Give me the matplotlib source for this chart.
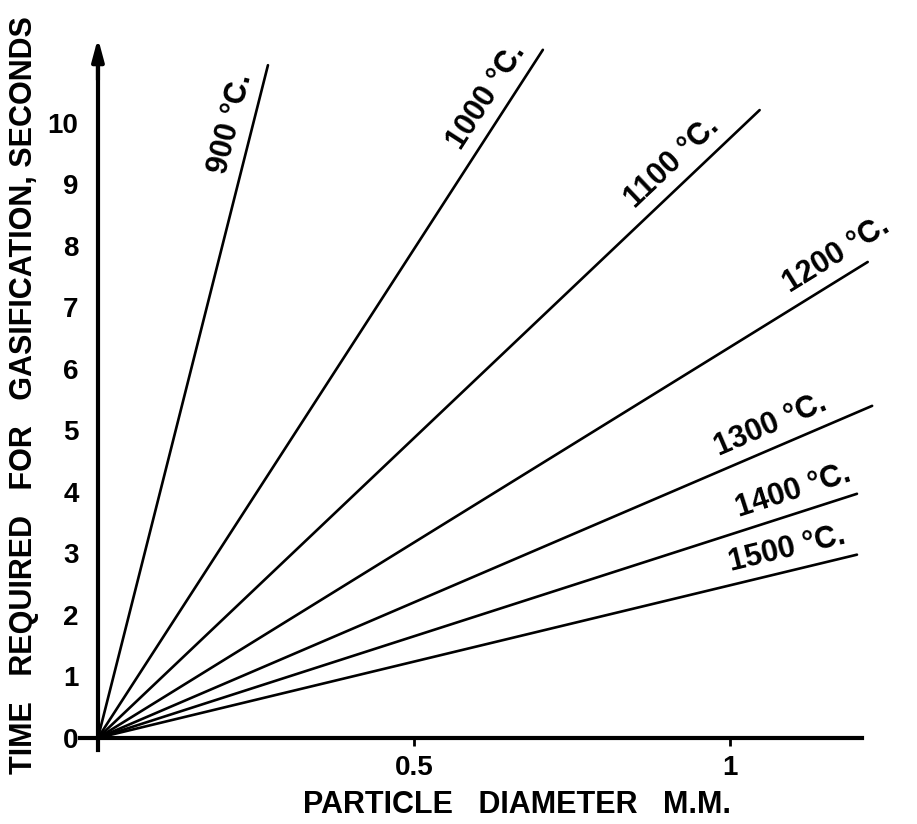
import numpy as np
import matplotlib.pyplot as plt

# gasification time vs particle diameter, one straight line per temperature
temps = ["900", "1000", "1100", "1200", "1300", "1400", "1500"]
end_diam = [0.269, 0.704, 1.047, 1.218, 1.225, 1.201, 1.201]   # mm
end_time = [10.94, 11.19, 10.21, 7.74, 5.40, 3.97, 2.98]       # seconds

y_ticks = list(range(0, 11))
x_ticks = [0.5, 1.0]
x_tick_labels = ["0.5", "1"]

# where the temperature label sits along each line (fraction of length)
label_frac = [0.905, 0.915, 0.89, 0.975, 0.88, 0.925, 0.915]

FONT = ["Liberation Sans", "DejaVu Sans"]
plt.rcParams['font.family'] = FONT

fig = plt.figure(figsize=(9.17, 8.24), dpi=100)
ax = fig.add_axes([0, 0, 1, 1])
ax.set_xlim(-0.155, 1.296)
ax.set_ylim(-1.40, 12.0)

# axes through the origin
for side in ['top', 'right']:
    ax.spines[side].set_visible(False)
ax.spines['left'].set_position(('data', 0))
ax.spines['bottom'].set_position(('data', 0))
ax.spines['left'].set_bounds(-0.2, 10.9)
ax.spines['bottom'].set_bounds(-0.028, 1.209)
ax.spines['left'].set_linewidth(3)
ax.spines['bottom'].set_linewidth(3)
ax.annotate('', xy=(0, 11.38), xytext=(0, 10.7),
            arrowprops=dict(arrowstyle='-|>,head_length=1.3,head_width=0.35',
                            lw=3, color='black', shrinkA=0, shrinkB=0))

ax.set_yticks(y_ticks)
ax.set_yticklabels([str(v) for v in y_ticks])
ax.tick_params(axis='y', length=0, pad=14, labelsize=20)
ax.set_xticks(x_ticks)
ax.set_xticklabels(x_tick_labels)
ax.tick_params(axis='x', direction='out', length=6, width=2, pad=6, labelsize=20)
for lbl in ax.get_xticklabels() + ax.get_yticklabels():
    lbl.set_fontweight('bold')

# the lines
for t, d, s, f in zip(temps, end_diam, end_time, label_frac):
    ax.plot([0, d], [0, s], color='black', lw=1.9, solid_capstyle='round')
    p0 = ax.transData.transform((0, 0))
    p1 = ax.transData.transform((d, s))
    ang = np.degrees(np.arctan2(p1[1] - p0[1], p1[0] - p0[0]))
    gap = 5
    ax.annotate(f"{t} °C.", xy=(f * d, f * s),
                xytext=(-np.sin(np.radians(ang)) * gap, np.cos(np.radians(ang)) * gap),
                textcoords='offset points', rotation=ang, rotation_mode='anchor',
                ha='center', va='bottom', fontsize=22, fontweight='bold')

fig.text(0.026, 0.52, "TIME   REQUIRED   FOR   GASIFICATION, SECONDS",
         rotation=90, ha='center', va='center', fontsize=22, fontweight='bold')
fig.text(0.564, 0.023, "PARTICLE   DIAMETER   M.M.",
         ha='center', va='center', fontsize=22, fontweight='bold')

fig.savefig("out.png", dpi=100)
